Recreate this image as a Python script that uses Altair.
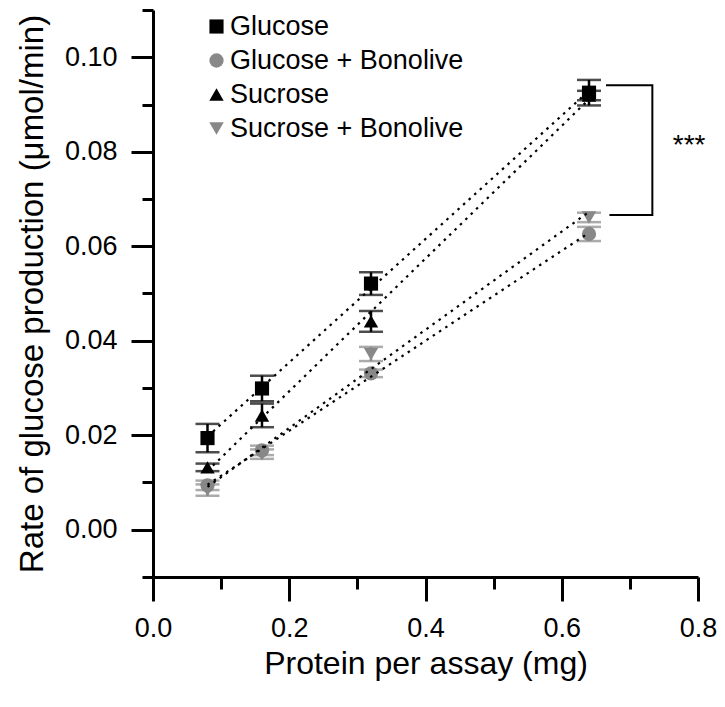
import altair as alt
import pandas as pd

# ---- data ----
series = ["Glucose", "Glucose + Bonolive", "Sucrose", "Sucrose + Bonolive"]
protein = [0.08, 0.16, 0.32, 0.64]

glucose = [0.0194, 0.0299, 0.0521, 0.0925]
glucose_err = [0.0030, 0.0027, 0.0024, 0.0027]
glucose_bon = [0.0094, 0.0168, 0.0331, 0.0626]
glucose_bon_err = [0.0010, 0.0010, 0.0008, 0.0015]
sucrose = [0.0132, 0.0242, 0.0441, 0.0919]
sucrose_err = [0.0008, 0.0025, 0.0022, 0.0010]
sucrose_bon = [0.0084, 0.0160, 0.0372, 0.0661]
sucrose_bon_err = [0.0012, 0.0010, 0.0015, 0.0010]

colors = ["#000000", "#888888", "#000000", "#888888"]
shapes = ["square", "circle", "triangle-up", "triangle-down"]
marker_sizes = [200, 210, 300, 300]

x_major = [0.0, 0.2, 0.4, 0.6, 0.8]
x_minor = [0.1, 0.3, 0.5, 0.7]
y_major = [0.00, 0.02, 0.04, 0.06, 0.08, 0.10]
y_minor = [-0.01, 0.01, 0.03, 0.05, 0.07, 0.09, 0.11]

# significance bracket (data coordinates)
bracket_x = [0.665, 0.733, 0.733, 0.670]
bracket_y = [0.0941, 0.0941, 0.0666, 0.0666]
sig_text = ["***"]
sig_x = [0.787]
sig_y = [0.0812]

FONT = "Liberation Sans"

# ---- tables ----
values = [glucose, glucose_bon, sucrose, sucrose_bon]
errors = [glucose_err, glucose_bon_err, sucrose_err, sucrose_bon_err]
rows = []
for s, vals, errs in zip(series, values, errors):
    for x, v, e in zip(protein, vals, errs):
        rows.append({"series": s, "x": x, "y": v, "lo": v - e, "hi": v + e})
df = pd.DataFrame(rows)

bracket_df = pd.DataFrame({"x": bracket_x, "y": bracket_y, "o": list(range(len(bracket_x)))})
sig_df = pd.DataFrame({"x": sig_x, "y": sig_y, "t": sig_text})

xs = alt.Scale(domain=[0, 0.8], nice=False, zero=False)
ys = alt.Scale(domain=[-0.01, 0.11], nice=False, zero=False)
cs = alt.Scale(domain=series, range=colors)
ss = alt.Scale(domain=series, range=shapes)
zs = alt.Scale(domain=series, range=marker_sizes)

x_axis = alt.Axis(values=x_major, format=".1f", tickSize=24, tickWidth=3, domainWidth=3,
                  domainColor="black", tickColor="black", labelFontSize=27, titleFontSize=32,
                  labelPadding=14, titlePadding=7, grid=False, orient="bottom",
                  labelFlush=False, labelOverlap=False, labelBound=False,
                  title="Protein per assay (mg)")
y_axis = alt.Axis(values=y_major, format=".2f", tickSize=22, tickWidth=3, domainWidth=3,
                  domainColor="black", tickColor="black", labelFontSize=27, titleFontSize=33,
                  labelPadding=14, titlePadding=15, grid=False, orient="left",
                  labelFlush=False, labelOverlap=False,
                  title="Rate of glucose production (\u03bcmol/min)")

x_minor_axis = alt.Axis(values=x_minor, labels=False, domain=False, tickSize=12, tickWidth=3,
                        tickColor="black", grid=False, title=None, orient="bottom")
y_minor_axis = alt.Axis(values=y_minor, labels=False, domain=False, tickSize=11, tickWidth=3,
                        tickColor="black", grid=False, title=None, orient="left")

legend = alt.Legend(
    orient="none", legendX=50, legendY=3, title=None, labelFont=FONT,
    labelFontSize=27, labelColor="black", symbolSize=180, rowPadding=6,
    labelOffset=0, padding=0, symbolStrokeWidth=0, labelLimit=500)

base = alt.Chart(df)

points = base.mark_point(filled=True, opacity=1).encode(
    x=alt.X("x:Q", scale=xs, axis=x_axis),
    y=alt.Y("y:Q", scale=ys, axis=y_axis),
    color=alt.Color("series:N", scale=cs, legend=legend),
    shape=alt.Shape("series:N", scale=ss, legend=legend),
    size=alt.Size("series:N", scale=zs, legend=None),
)

minor = base.mark_point(opacity=0).encode(
    x=alt.X("x:Q", scale=xs, axis=x_minor_axis),
    y=alt.Y("y:Q", scale=ys, axis=y_minor_axis),
)

err_rule = base.mark_rule(strokeWidth=2.5).encode(
    x=alt.X("x:Q", scale=xs, axis=None),
    y=alt.Y("lo:Q", scale=ys, axis=None),
    y2="hi:Q",
    color=alt.Color("series:N", scale=cs, legend=None),
)

err_caps = base.transform_fold(["lo", "hi"], as_=["k", "v"]).mark_tick(
    orient="horizontal", size=24, thickness=2.5).encode(
    x=alt.X("x:Q", scale=xs, axis=None),
    y=alt.Y("v:Q", scale=ys, axis=None),
    color=alt.Color("series:N", scale=cs, legend=None),
)

fits = base.transform_regression("x", "y", groupby=["series"], extent=[0.08, 0.64]).mark_line(
    color="black", strokeDash=[2.5, 5], strokeWidth=2.2).encode(
    x=alt.X("x:Q", scale=xs, axis=None),
    y=alt.Y("y:Q", scale=ys, axis=None),
    detail="series:N",
)

bracket = alt.Chart(bracket_df).mark_line(color="black", strokeWidth=2).encode(
    x=alt.X("x:Q", scale=xs, axis=None),
    y=alt.Y("y:Q", scale=ys, axis=None),
    order="o:Q",
)

sig = alt.Chart(sig_df).mark_text(font=FONT, fontSize=28, color="black",
                                  align="center", baseline="middle").encode(
    x=alt.X("x:Q", scale=xs, axis=None),
    y=alt.Y("y:Q", scale=ys, axis=None),
    text="t:N",
)

chart = alt.layer(points, err_rule, err_caps, fits, minor, bracket, sig).resolve_axis(
    x="independent", y="independent"
).properties(
    width=545, height=567,
    autosize=alt.AutoSizeParams(type="none"),
    padding={"left": 145, "top": 2, "right": 19, "bottom": 108},
).configure_view(stroke=None).configure_axis(
    labelFont=FONT, titleFont=FONT, labelColor="black", titleColor="black",
    titleFontWeight="normal",
)

chart.save("out.html", embed_options={"renderer": "svg", "actions": False})
